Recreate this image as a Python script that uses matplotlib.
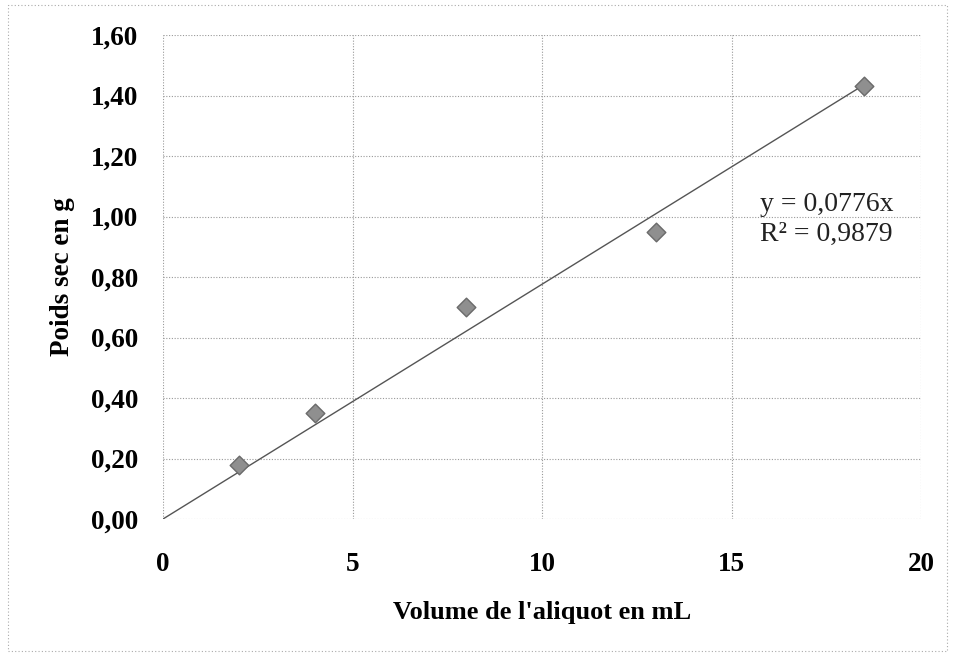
import matplotlib
matplotlib.use("Agg")
import matplotlib.pyplot as plt
import numpy as np
from matplotlib.patches import Rectangle

volume = [2, 4, 8, 13, 18.5]
poids = [0.18, 0.35, 0.70, 0.95, 1.43]
slope = 0.0776
r2 = 0.9879
xticks = [0, 5, 10, 15, 20]
yticks = [0.0, 0.2, 0.4, 0.6, 0.8, 1.0, 1.2, 1.4, 1.6]

plt.rcParams['font.family'] = ['Liberation Serif', 'DejaVu Serif']

fig = plt.figure(figsize=(9.55, 6.56), dpi=100)
ax = fig.add_axes([163/955, 1-519/656, (921-163)/955, (519-35)/656])

for s in ax.spines.values():
    s.set_visible(False)

ax.set_xlim(0, 20)
ax.set_ylim(0, 1.6)
ax.set_xticks(xticks)
ax.set_yticks(yticks)
ax.set_xticklabels([str(t) for t in xticks])
ax.set_yticklabels([f"{t:.2f}".replace('.', ',') for t in yticks])
ax.tick_params(length=0, labelsize=19.5)
ax.tick_params(axis='y', pad=18)
ax.tick_params(axis='x', pad=24)
for lab in ax.get_xticklabels() + ax.get_yticklabels():
    lab.set_fontweight('bold')

ax.grid(True, color='#999999', linestyle=(0, (1, 1.5)), linewidth=0.8)
ax.set_axisbelow(True)

xl = np.array([0, max(volume)])
ax.plot(xl, slope * xl, color='#555555', linewidth=1.0, zorder=2)
ax.scatter(volume, poids, marker='D', s=90, color='#8f8f8f', edgecolor='#6a6a6a', zorder=3)

ax.text(0.788, 0.636, f"y = {slope}x".replace('.', ','), transform=ax.transAxes,
        fontsize=20, color='#222222')
ax.text(0.788, 0.574, f"R² = {r2}".replace('.', ','), transform=ax.transAxes,
        fontsize=20, color='#222222')

ax.set_xlabel("Volume de l'aliquot en mL", fontsize=19, fontweight='bold', labelpad=17)
ax.set_ylabel("Poids sec en g", fontsize=19.5, fontweight='bold', labelpad=11)

fig.patches.append(Rectangle((0.008, 0.008), 0.984, 0.984, transform=fig.transFigure,
                             fill=False, edgecolor='#aaaaaa', linestyle=(0, (1, 2)), linewidth=0.8))

fig.savefig('out.png', dpi=100)
